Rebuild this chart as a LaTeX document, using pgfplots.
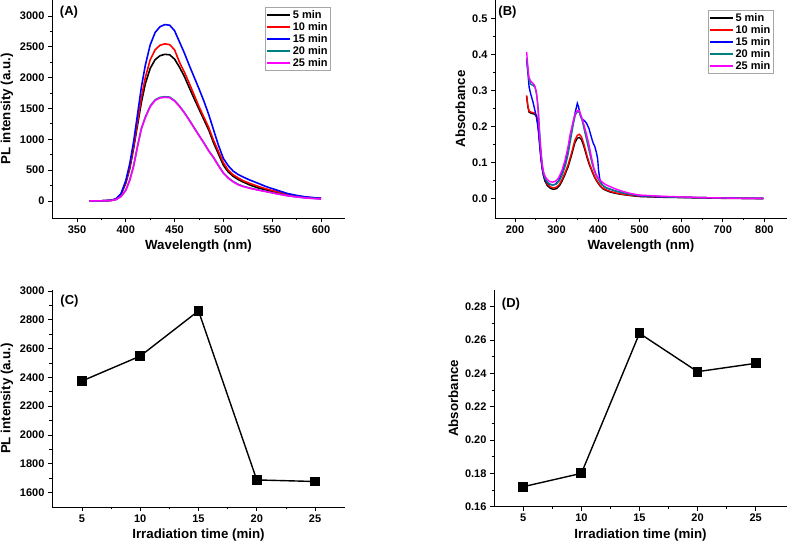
\documentclass[border=0pt]{standalone}
\usepackage{fontspec}
\setmainfont{Liberation Sans}
\usepackage{pgfplots}
\pgfplotsset{compat=1.18}

\definecolor{teal20}{RGB}{0,128,128}
\definecolor{mag25}{RGB}{255,0,255}

\pgfplotsset{
  panel/.style={
    scale only axis, anchor=south west,
    axis x line*=bottom, axis y line*=left,
    axis line style={line width=0.9pt, black},
    tick align=outside,
    major tick length=4pt, minor tick length=2.5pt,
    every tick/.style={line width=0.8pt, black},
    minor x tick num=1, minor y tick num=1,
    /pgf/number format/assume math mode=true,
    /pgf/number format/1000 sep={},
    ticklabel style={font=\bfseries\fontsize{11}{12}\selectfont},
    label style={font=\bfseries\fontsize{13.3}{15}\selectfont},
  },
  spec/.style={line width=1.6pt},
  leg/.style={
    legend style={draw=gray!70, line width=0.5pt,
      font=\bfseries\fontsize{11}{12}\selectfont,
      inner xsep=1pt, inner ysep=1pt, row sep=-1.5pt, cells={anchor=west}},
    legend image code/.code={\draw[##1] (0pt,0pt) -- (23pt,0pt);},
  },
}

\begin{document}
\begin{tikzpicture}
\path[use as bounding box] (0,0) rectangle (787pt,545pt);

% (A) PL spectra
\begin{axis}[panel, leg,
  at={(52pt,327pt)}, width=293pt, height=218pt,
  xmin=324.4, xmax=624.6, ymin=-276, ymax=3259,
  xtick={350,400,...,600}, ytick={0,500,...,3000},
  xlabel={Wavelength (nm)}, ylabel={PL intensity (a.u.)},
  legend style={at={(0.727,0.968)}, anchor=north west},
]
\addplot[spec, black] coordinates {
(363,0) (375,2) (385,10) (390,30) (395,100) (400,290) (404,520) (408,850)
(412,1230) (416,1600) (420,1900) (425,2150) (430,2290) (435,2355) (440,2378)
(445,2370) (450,2300) (455,2170) (460,2020) (465,1840) (470,1660) (475,1490)
(480,1320) (485,1150) (490,940) (495,760) (500,580) (505,470) (510,400)
(515,350) (520,310) (527,260) (535,215) (544,178) (555,135) (565,97)
(575,72) (585,55) (600,40)};
\addlegendentry{5 min}
\addplot[spec, red] coordinates {
(363,0) (375,2) (385,10) (390,32) (395,105) (400,300) (404,540) (408,880)
(412,1280) (416,1680) (420,2000) (425,2290) (430,2450) (435,2525) (440,2548)
(445,2535) (450,2450) (455,2250) (460,2090) (465,1910) (470,1720) (475,1530)
(480,1360) (485,1190) (490,980) (495,800) (500,620) (505,500) (510,425)
(515,375) (520,330) (527,285) (535,240) (544,195) (555,150) (565,110)
(575,80) (585,60) (600,42)};
\addlegendentry{10 min}
\addplot[spec, blue] coordinates {
(363,0) (375,2) (385,12) (390,35) (395,115) (400,330) (404,600) (408,960)
(412,1400) (416,1850) (420,2200) (425,2530) (430,2730) (435,2825) (440,2860)
(445,2850) (450,2760) (455,2580) (460,2400) (465,2200) (470,2010) (475,1820)
(480,1620) (485,1400) (490,1150) (495,900) (500,690) (505,570) (510,485)
(515,430) (520,390) (527,340) (535,290) (544,232) (555,175) (565,124)
(575,90) (585,65) (600,43)};
\addlegendentry{15 min}
\addplot[spec, teal20] coordinates {
(363,0) (375,2) (385,8) (390,23) (395,72) (400,175) (404,338) (408,570)
(412,890) (416,1180) (420,1360) (425,1540) (430,1640) (435,1680) (440,1690)
(445,1684) (450,1628) (455,1540) (460,1435) (465,1315) (470,1190) (475,1065)
(480,945) (485,815) (490,705) (495,575) (500,455) (505,375) (510,315)
(515,270) (520,240) (527,210) (535,181) (544,154) (555,118) (565,88)
(575,67) (585,50) (600,34)};
\addlegendentry{20 min}
\addplot[spec, mag25] coordinates {
(363,0) (375,2) (385,8) (390,22) (395,70) (400,170) (404,330) (408,560)
(412,880) (416,1170) (420,1350) (425,1530) (430,1630) (435,1670) (440,1681)
(445,1675) (450,1620) (455,1535) (460,1430) (465,1310) (470,1185) (475,1060)
(480,940) (485,810) (490,700) (495,570) (500,450) (505,370) (510,310)
(515,265) (520,235) (527,206) (535,178) (544,151) (555,115) (565,86)
(575,65) (585,48) (600,32)};
\addlegendentry{25 min}
\end{axis}

% (B) absorption spectra
\begin{axis}[panel, leg, spec/.style={line width=1.4pt},
  at={(495pt,327pt)}, width=292pt, height=218pt,
  xmin=151.9, xmax=854.6, ymin=-0.0536, ymax=0.552,
  xtick={200,300,...,800}, ytick={0,0.1,...,0.5},
  yticklabel style={/pgf/number format/.cd, fixed, fixed zerofill, precision=1},
  xlabel={Wavelength (nm)}, ylabel={Absorbance},
  legend style={at={(0.729,0.954)}, anchor=north west},
]
\addplot[spec, black] coordinates {
(228,0.285) (231,0.255) (234,0.240) (240,0.237) (247,0.235) (252,0.228)
(256,0.200) (259,0.160) (262,0.120) (265,0.088) (268,0.066) (272,0.049)
(278,0.036) (285,0.029) (292,0.026) (300,0.028) (307,0.036) (313,0.048)
(320,0.066) (328,0.089) (336,0.120) (344,0.155) (350,0.168) (355,0.170)
(360,0.164) (365,0.148) (370,0.128) (375,0.108) (380,0.091) (385,0.077)
(390,0.063) (395,0.052) (400,0.043) (405,0.035) (410,0.029) (417,0.024)
(430,0.018) (450,0.013) (475,0.009) (500,0.006) (550,0.004) (600,0.003)
(650,0.002) (700,0.001) (750,0.001) (798,0.000)};
\addlegendentry{5 min}
\addplot[spec, red] coordinates {
(228,0.287) (231,0.258) (234,0.243) (240,0.240) (247,0.238) (252,0.231)
(256,0.205) (259,0.165) (262,0.125) (265,0.093) (268,0.071) (272,0.054)
(278,0.041) (285,0.033) (292,0.030) (300,0.032) (307,0.040) (313,0.053)
(320,0.071) (328,0.095) (336,0.127) (344,0.162) (350,0.176) (355,0.179)
(360,0.172) (365,0.155) (370,0.134) (375,0.113) (380,0.095) (385,0.080)
(390,0.066) (395,0.054) (400,0.045) (405,0.037) (410,0.031) (417,0.026)
(430,0.020) (450,0.014) (475,0.010) (500,0.007) (550,0.005) (600,0.004)
(650,0.003) (700,0.002) (750,0.001) (798,0.001)};
\addlegendentry{10 min}
\addplot[spec, blue] coordinates {
(228,0.385) (231,0.350) (234,0.310) (238,0.290) (243,0.270) (248,0.245)
(251,0.230) (254,0.210) (257,0.180) (260,0.140) (263,0.105) (266,0.080)
(270,0.060) (276,0.047) (283,0.040) (290,0.038) (297,0.040) (305,0.050)
(313,0.070) (320,0.095) (327,0.130) (333,0.170) (340,0.210) (345,0.240)
(350,0.265) (353,0.255) (357,0.232) (361,0.220) (366,0.218) (372,0.210)
(378,0.195) (384,0.170) (388,0.155) (392,0.145) (396,0.128) (399,0.110)
(401,0.080) (404,0.055) (408,0.042) (414,0.034) (420,0.030) (440,0.022)
(460,0.016) (480,0.012) (500,0.008) (550,0.005) (600,0.004) (650,0.003)
(700,0.002) (750,0.001) (798,0.001)};
\addlegendentry{15 min}
\addplot[spec, teal20] coordinates {
(228,0.390) (231,0.360) (234,0.330) (238,0.318) (243,0.315) (248,0.310)
(252,0.290) (256,0.250) (259,0.190) (262,0.140) (265,0.100) (268,0.075)
(272,0.058) (278,0.046) (285,0.040) (292,0.038) (300,0.041) (308,0.052)
(315,0.070) (322,0.095) (328,0.125) (334,0.165) (340,0.205) (345,0.232)
(350,0.242) (355,0.240) (360,0.225) (365,0.200) (370,0.175) (375,0.150)
(380,0.125) (385,0.100) (390,0.080) (395,0.065) (400,0.055) (405,0.045)
(410,0.038) (420,0.030) (440,0.022) (460,0.016) (480,0.012) (500,0.009)
(550,0.006) (600,0.004) (650,0.003) (700,0.002) (750,0.001) (798,0.001)};
\addlegendentry{20 min}
\addplot[spec, mag25] coordinates {
(228,0.408) (230,0.380) (233,0.340) (237,0.328) (242,0.322) (247,0.315)
(251,0.300) (254,0.270) (257,0.220) (260,0.165) (263,0.120) (266,0.090)
(270,0.068) (276,0.055) (283,0.048) (290,0.046) (297,0.048) (305,0.058)
(313,0.078) (320,0.105) (327,0.140) (333,0.180) (340,0.215) (345,0.236)
(350,0.245) (355,0.244) (360,0.228) (366,0.205) (372,0.180) (378,0.150)
(384,0.115) (390,0.085) (395,0.068) (400,0.058) (406,0.050) (412,0.044)
(420,0.038) (440,0.028) (460,0.020) (480,0.014) (500,0.010) (550,0.007)
(600,0.005) (650,0.003) (700,0.002) (750,0.001) (798,0.001)};
\addlegendentry{25 min}
\end{axis}

% (C) PL intensity vs time
\begin{axis}[panel,
  at={(52pt,38pt)}, width=293pt, height=217pt,
  xmin=2.43, xmax=27.57, ymin=1500, ymax=3007,
  xtick={5,10,...,25}, ytick={1600,1800,...,3000},
  xlabel={Irradiation time (min)}, ylabel={PL intensity (a.u.)},
]
\addplot[black, line width=1.4pt, mark=square*, mark size=4.2pt] coordinates {
(5,2375) (10,2548) (15,2862) (20,1688) (25,1677)};
\end{axis}

% (D) absorbance vs time
\begin{axis}[panel,
  at={(494pt,38.3pt)}, width=293pt, height=216.7pt,
  xmin=2.48, xmax=27.7, ymin=0.16, ymax=0.29,
  xtick={5,10,...,25}, ytick={0.16,0.18,...,0.28},
  yticklabel style={/pgf/number format/.cd, fixed, fixed zerofill, precision=2},
  xlabel={Irradiation time (min)}, ylabel={Absorbance},
]
\addplot[black, line width=1.4pt, mark=square*, mark size=4.2pt] coordinates {
(5,0.172) (10,0.180) (15,0.264) (20,0.241) (25,0.246)};
\end{axis}

\begin{scope}[every node/.style={font=\bfseries\fontsize{13}{15}\selectfont}]
\node at (69pt,533pt) {(A)};
\node at (507.5pt,533pt) {(B)};
\node at (69.5pt,243.5pt) {(C)};
\node at (511pt,240.5pt) {(D)};
\end{scope}
\end{tikzpicture}
\end{document}
